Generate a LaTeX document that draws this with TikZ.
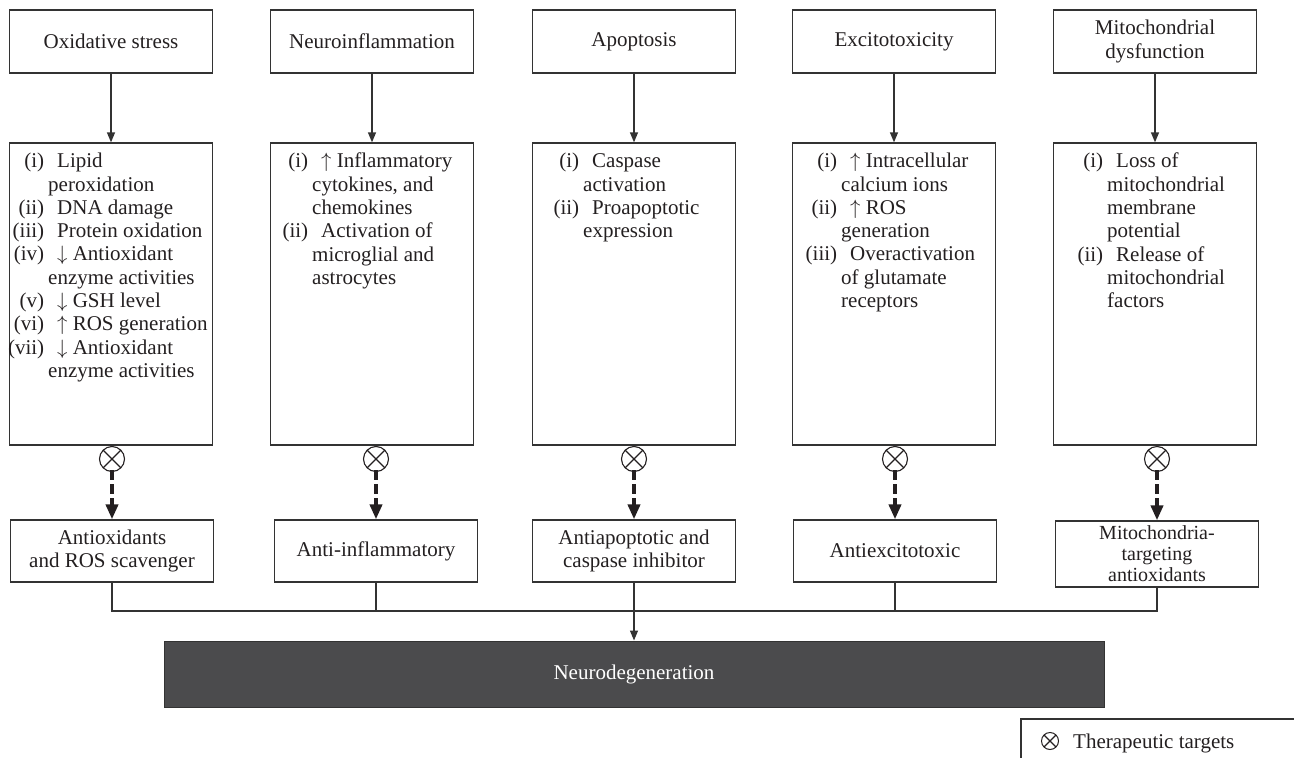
\documentclass[tikz,border=0pt]{standalone}
\usepackage{fontspec}
\usepackage{graphicx}
\setmainfont{Liberation Serif}
\usetikzlibrary{arrows.meta}
\definecolor{ink}{HTML}{231F20}
\definecolor{ln}{HTML}{333333}
\definecolor{darkfill}{HTML}{4B4B4D}
\newcommand\itm[2]{\makebox[0pt][r]{#1}\hspace*{13pt}#2}
\newcommand\cnt[1]{\hspace*{4pt}#1}
\begin{document}
\begin{tikzpicture}[x=1pt,y=-1pt,
  every node/.style={font=\fontsize{21}{23.3}\selectfont, text=ink},
  box/.style={draw=ln, line width=1.3pt, rectangle, minimum width=203pt, inner sep=0pt, align=center},
  topbox/.style={box, minimum height=63pt},
  midbox/.style={box, minimum height=302pt},
  botbox/.style={box, minimum height=62pt},
  lst/.style={inner sep=0pt, align=left, anchor=north west},
  arr/.style={draw=ln, line width=1.3pt, -{Triangle[length=10pt,width=8pt]}},
  darr/.style={draw=ink, line width=3.8pt, dash pattern=on 10pt off 4pt, -{Triangle[length=15pt,width=12pt]}},
  tgt/.style={circle, draw=ink, line width=1.1pt, minimum size=25pt, inner sep=0pt,
    path picture={\draw[ink, line width=1.1pt] (path picture bounding box.north west) -- (path picture bounding box.south east) (path picture bounding box.north east) -- (path picture bounding box.south west);}},
  conn/.style={draw=ln, line width=1.3pt}
]
\useasboundingbox (0,0) rectangle (1294,758);

% top boxes
\node[topbox] (t1) at (111,41.5) {Oxidative stress};
\node[topbox] (t2) at (372,41.5) {Neuroinflammation};
\node[topbox] (t3) at (634,41.5) {Apoptosis};
\node[topbox] (t4) at (894,41.5) {Excitotoxicity};
\node[topbox] (t5) at (1155,41.5) {Mitochondrial\\dysfunction};

% middle boxes
\node[midbox] (m1) at (111,294) {};
\node[midbox] (m2) at (372,294) {};
\node[midbox] (m3) at (634,294) {};
\node[midbox] (m4) at (894,294) {};
\node[midbox] (m5) at (1155,294) {};

\node[lst] (l1) at (44,153) {\itm{(i)}{Lipid}\\ \cnt{peroxidation}\\ \itm{(ii)}{DNA damage}\\ \itm{(iii)}{Protein oxidation}\\ \itm{(iv)}{$\downarrow$ Antioxidant}\\ \cnt{enzyme activities}\\ \itm{(v)}{$\downarrow$ GSH level}\\ \itm{(vi)}{$\uparrow$ ROS generation}\\ \itm{(vii)}{$\downarrow$ Antioxidant}\\ \cnt{enzyme activities}};
\node[lst] (l2) at (308,153) {\itm{(i)}{$\uparrow$ Inflammatory}\\ \cnt{cytokines, and}\\ \cnt{chemokines}\\ \itm{(ii)}{Activation of}\\ \cnt{microglial and}\\ \cnt{astrocytes}};
\node[lst] (l3) at (579,153) {\itm{(i)}{Caspase}\\ \cnt{activation}\\ \itm{(ii)}{Proapoptotic}\\ \cnt{expression}};
\node[lst] (l4) at (837,153) {\itm{(i)}{$\uparrow$ Intracellular}\\ \cnt{calcium ions}\\ \itm{(ii)}{$\uparrow$ ROS}\\ \cnt{generation}\\ \itm{(iii)}{Overactivation}\\ \cnt{of glutamate}\\ \cnt{receptors}};
\node[lst] (l5) at (1103,153) {\itm{(i)}{Loss of}\\ \cnt{mitochondrial}\\ \cnt{membrane}\\ \cnt{potential}\\ \itm{(ii)}{Release of}\\ \cnt{mitochondrial}\\ \cnt{factors}};

% targets
\node[tgt] (c1) at (112,459) {};
\node[tgt] (c2) at (376,459) {};
\node[tgt] (c3) at (634,459) {};
\node[tgt] (c4) at (895,459) {};
\node[tgt] (c5) at (1157,459) {};

% bottom boxes
\node[botbox] (b1) at (112,551) {Antioxidants\\and ROS scavenger};
\node[botbox] (b2) at (376,551) {Anti-inflammatory};
\node[botbox] (b3) at (634,551) {Antiapoptotic and\\caspase inhibitor};
\node[botbox] (b4) at (895,551) {Antiexcitotoxic};
\node[botbox, minimum height=66pt, font=\fontsize{20}{21}\selectfont] (b5) at (1157,554) {Mitochondria-\\targeting\\antioxidants};

% neurodegeneration
\node[draw=ln, line width=1pt, fill=darkfill, minimum width=940pt, minimum height=66pt, inner sep=0pt, text=white] (neuro) at (634,674) {Neurodegeneration};

% arrows top -> middle, targets -> therapies
\foreach \i in {1,...,5} {
  \draw[arr] (t\i) -- (m\i);
  \draw[darr] ([yshift=2pt]c\i.south) -- (c\i.south |- b\i.north);
}

% bus
\coordinate (bus) at (0,611);
\draw[conn] (b1.south) |- (b5.south |- bus) -- (b5.south);
\draw[conn] (b2.south) -- (b2.south |- bus);
\draw[conn] (b4.south) -- (b4.south |- bus);
\draw[arr] (b3.south) -- (b3.south |- neuro.north);

% legend
\coordinate (lgc) at (1021,719);
\draw[conn, line width=1.1pt] (1294,719) -- (lgc) -- (1021,758);
\node[tgt, minimum size=17pt, line width=1pt] (lg) at (1050,741) {};
\node[anchor=base west, inner sep=0pt] (lgt) at (1073,748) {Therapeutic targets};
\end{tikzpicture}
\end{document}
